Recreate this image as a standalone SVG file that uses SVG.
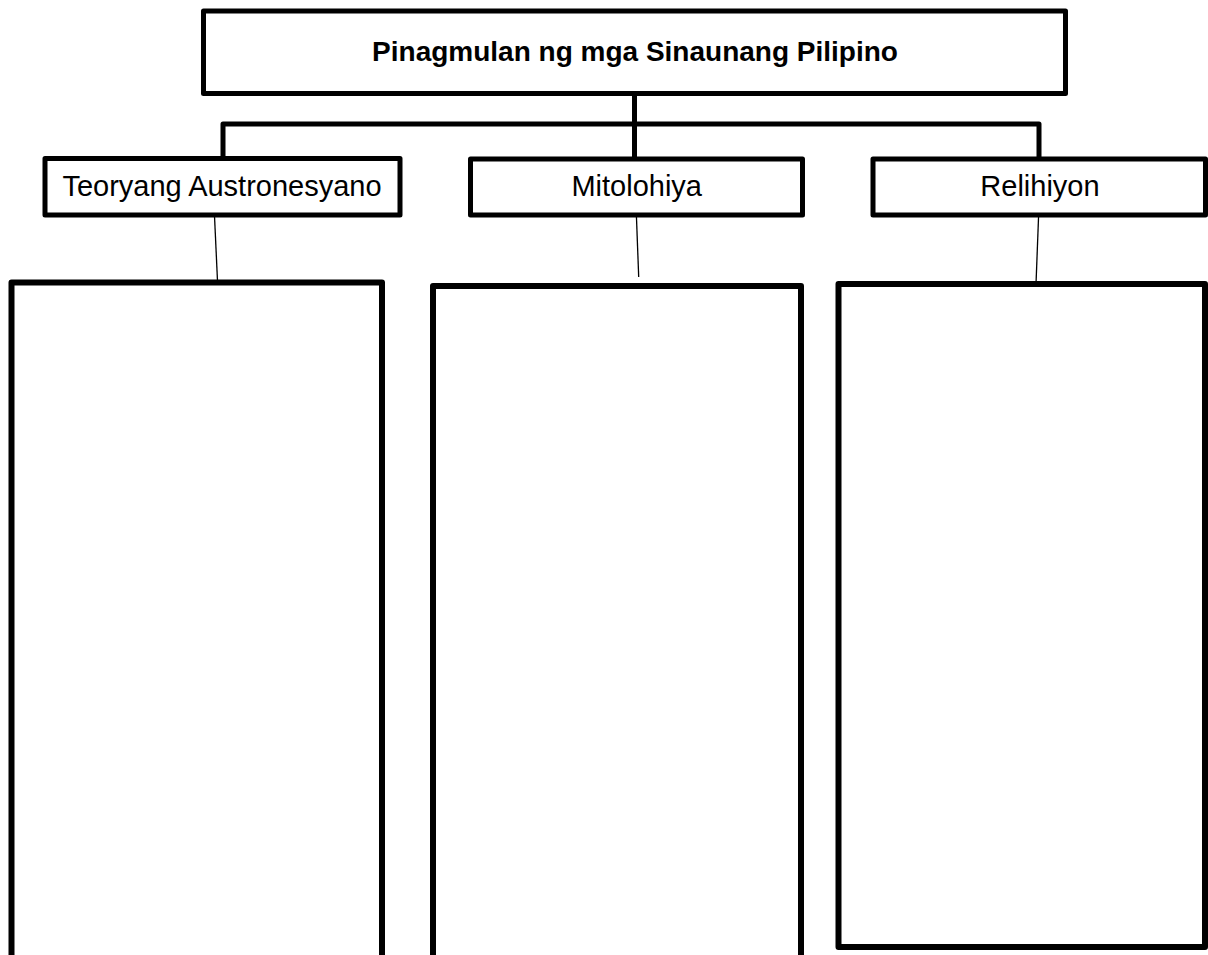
<svg xmlns="http://www.w3.org/2000/svg" width="1208" height="955" viewBox="0 0 1208 955">
<style>
.box{fill:#fff;stroke:#000;stroke-width:5;stroke-linejoin:round}
.big{fill:#fff;stroke:#000;stroke-width:6;stroke-linejoin:round}
.conn{fill:none;stroke:#000;stroke-width:5;stroke-linejoin:round}
.thin{fill:none;stroke:#000;stroke-width:1.3}
.lbl{font-family:"Liberation Sans",Arial,sans-serif;font-size:29px;fill:#000;text-anchor:middle}
.ttl{font-family:"Liberation Sans",Arial,sans-serif;font-size:28px;font-weight:bold;fill:#000;text-anchor:middle}
</style>
<rect width="1208" height="955" fill="#fff"/>
<g id="connectors">
<path class="conn" d="M634.5 93.5 V158.5"/>
<path class="conn" d="M223 158.5 V124 H1039 V158.5"/>
</g>
<g id="root">
<rect class="box" x="203.5" y="11" width="862" height="82.5"/>
<text class="ttl" x="635" y="61">Pinagmulan ng mga Sinaunang Pilipino</text>
</g>
<g id="big1">
<rect class="big" x="11.5" y="282.5" width="370.5" height="700"/>
</g>
<g id="big2">
<rect class="big" x="433" y="286" width="368" height="700"/>
</g>
<g id="big3">
<rect class="big" x="838.5" y="284" width="366.5" height="663"/>
</g>
<g id="thin-links">
<path class="thin" d="M214.5 216 L217.5 281"/>
<path class="thin" d="M636 205 L638.7 277"/>
<path class="thin" d="M1039 205 L1036 284"/>
</g>
<g id="n1">
<rect class="box" x="45" y="158.5" width="355" height="56.5"/>
<text class="lbl" x="222" y="196">Teoryang Austronesyano</text>
</g>
<g id="n2">
<rect class="box" x="470.5" y="159" width="332" height="56"/>
<text class="lbl" x="636.7" y="196">Mitolohiya</text>
</g>
<g id="n3">
<rect class="box" x="873" y="159" width="332.5" height="56"/>
<text class="lbl" x="1040" y="196">Relihiyon</text>
</g>
</svg>
